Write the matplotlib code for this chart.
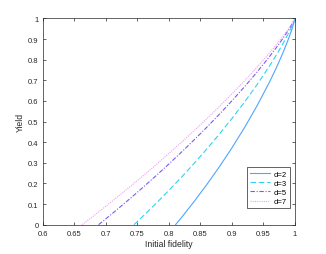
import matplotlib
matplotlib.use("Agg")
import matplotlib.pyplot as plt

plt.rcParams['font.family'] = ['Liberation Sans', 'DejaVu Sans']

# yield vs initial fidelity
f_d2 = [0.8106, 0.82, 0.84, 0.86, 0.88, 0.90, 0.92, 0.94, 0.96, 0.97, 0.98, 0.99, 0.995, 0.999, 1.0]
y_d2 = [0.0, 0.0346, 0.1121, 0.1939, 0.2804, 0.3725, 0.4710, 0.5775, 0.6943, 0.7581, 0.8269, 0.9034, 0.9467, 0.9870, 1.0]

f_d3 = [0.7447, 0.76, 0.78, 0.80, 0.82, 0.84, 0.86, 0.88, 0.90, 0.92, 0.94, 0.96, 0.97, 0.98, 0.99, 0.995, 0.999, 1.0]
y_d3 = [0.0, 0.0441, 0.1040, 0.1660, 0.2302, 0.2969, 0.3664, 0.4389, 0.5148, 0.5948, 0.6798, 0.7714, 0.8206, 0.8729, 0.9301, 0.9619, 0.9909, 1.0]

f_d5 = [0.6886, 0.70, 0.72, 0.74, 0.76, 0.78, 0.80, 0.82, 0.84, 0.86, 0.88, 0.90, 0.92, 0.94, 0.96, 0.97, 0.98, 0.99, 0.995, 0.999, 1.0]
y_d5 = [0.0, 0.0281, 0.0787, 0.1305, 0.1837, 0.2382, 0.2942, 0.3517, 0.4109, 0.4719, 0.5351, 0.6006, 0.6688, 0.7405, 0.8167, 0.8570, 0.8996, 0.9455, 0.9706, 0.9931, 1.0]

f_d7 = [0.6625, 0.67, 0.68, 0.70, 0.72, 0.74, 0.76, 0.78, 0.80, 0.82, 0.84, 0.86, 0.88, 0.90, 0.92, 0.94, 0.96, 0.97, 0.98, 0.99, 0.995, 0.999, 1.0]
y_d7 = [0.0, 0.0176, 0.0412, 0.0893, 0.1382, 0.1883, 0.2393, 0.2916, 0.3450, 0.3997, 0.4557, 0.5134, 0.5727, 0.6340, 0.6976, 0.7640, 0.8341, 0.8711, 0.9098, 0.9513, 0.9739, 0.9939, 1.0]

x_ticks = [0.6, 0.65, 0.7, 0.75, 0.8, 0.85, 0.9, 0.95, 1.0]
x_ticklabels = ['0.6', '0.65', '0.7', '0.75', '0.8', '0.85', '0.9', '0.95', '1']
y_ticks = [0, 0.1, 0.2, 0.3, 0.4, 0.5, 0.6, 0.7, 0.8, 0.9, 1.0]
y_ticklabels = ['0', '0.1', '0.2', '0.3', '0.4', '0.5', '0.6', '0.7', '0.8', '0.9', '1']

fig = plt.figure(figsize=(3.26, 2.55), dpi=100)
ax = fig.add_axes([0.131, 0.115, 0.774, 0.809])

ax.plot(f_d2, y_d2, color='#4DA6FF', lw=0.8, ls='-', label='d=2')
ax.plot(f_d3, y_d3, color='#2ED3F5', lw=0.8, ls=(0, (5, 2.5)), label='d=3')
ax.plot(f_d5, y_d5, color='#7A5CF5', lw=0.8, ls=(0, (4, 1.5, 1, 1.5)), label='d=5')
ax.plot(f_d7, y_d7, color='#F0A0F0', lw=0.8, ls=(0, (1, 1)), label='d=7')

ax.set_xlim(0.6, 1.0)
ax.set_ylim(0, 1)
ax.set_xticks(x_ticks)
ax.set_xticklabels(x_ticklabels)
ax.set_yticks(y_ticks)
ax.set_yticklabels(y_ticklabels)
ax.tick_params(direction='in', length=2, width=0.5, colors='#262626',
               labelsize=5.5, top=True, right=True)
ax.tick_params(axis='x', pad=4)
ax.tick_params(axis='y', pad=3)
for s in ax.spines.values():
    s.set_color('#262626')
    s.set_linewidth(0.5)

ax.set_xlabel('Initial fidelity', fontsize=6.2, color='#262626', labelpad=1.5)
ax.set_ylabel('Yield', fontsize=6.2, color='#262626', labelpad=2)

leg = ax.legend(loc='lower right', fontsize=5.5, handlelength=2.6,
                handletextpad=0.5, borderpad=0.4, labelspacing=0.25,
                fancybox=False, framealpha=1, bbox_to_anchor=(0.995, 0.06))
leg.get_frame().set_edgecolor('#262626')
leg.get_frame().set_linewidth(0.5)

fig.savefig('out.png', dpi=100)
